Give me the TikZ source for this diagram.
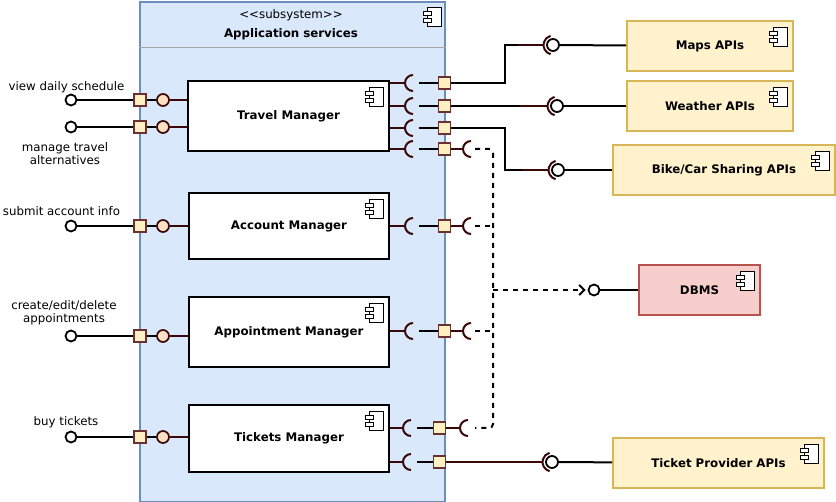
\documentclass[tikz,border=0pt]{standalone}
\usepackage{fontspec}
\setmainfont{DejaVu Sans}
\usetikzlibrary{arrows.meta}
\definecolor{subFill}{HTML}{DAE8FC}
\definecolor{subDraw}{HTML}{6C8EBF}
\definecolor{yelFill}{HTML}{FFF2CC}
\definecolor{yelDraw}{HTML}{D6B656}
\definecolor{redFill}{HTML}{F8CECC}
\definecolor{redDraw}{HTML}{B85450}
\definecolor{cBrown}{HTML}{3A0808}
\definecolor{cPort}{HTML}{FFF0C4}
\definecolor{cPortDraw}{HTML}{6B3030}
\definecolor{cPeach}{HTML}{FFE0C4}
\tikzset{
  blk/.style={line width=2pt, draw=black},
  brw/.style={line width=2pt, draw=cBrown},
  dsh/.style={line width=2pt, draw=black, dash pattern=on 5pt off 5pt},
  comp/.style={draw=black, line width=2.2pt, fill=white, minimum width=200, minimum height=70, inner sep=0, font=\fontsize{11.8}{14}\selectfont\bfseries},
  extbox/.style={draw=yelDraw, fill=yelFill, line width=2pt, minimum height=50, inner sep=0, font=\fontsize{11.8}{14}\selectfont\bfseries},
  ext/.style={circle, draw=black, fill=white, line width=1.8pt, minimum size=11, inner sep=0},
  port/.style={rectangle, draw=cPortDraw, fill=cPort, line width=1.7pt, minimum size=12, inner sep=0},
  ball/.style={circle, draw=cBrown, fill=cPeach, line width=1.7pt, minimum size=12, inner sep=0},
  lab/.style={align=center, inner sep=0, font=\fontsize{11.8}{13}\selectfont},
  cicon/.pic={
    \draw[line width=1pt, fill=white] (-14,0) rectangle (0,19);
    \draw[line width=1pt, fill=white] (-18,4) rectangle (-10,8);
    \draw[line width=1pt, fill=white] (-18,11) rectangle (-10,15);
  },
  sock/.pic={\draw[brw] (8,8) arc[start angle=90, end angle=270, radius=8];}
}
\begin{document}
\begin{tikzpicture}[x=1pt, y=-1pt]
\useasboundingbox (0,0) rectangle (836,502);
% subsystem
\node[draw=subDraw, fill=subFill, line width=1.8pt, minimum width=305, minimum height=500, inner sep=0, anchor=north west] (sub) at (139,1) {};
\draw[draw=gray!70, line width=0.8pt] (sub.west |- 0,47) -- (sub.east |- 0,47);
\node[lab] (st) at (291,15) {<\kern0pt<subsystem>\kern0pt>};
\node[lab, font=\fontsize{11.8}{13}\selectfont\bfseries] (sn) at (291,34) {Application services};
\pic at ([xshift=-4pt,yshift=-7pt]sub.north east) {cicon};
% components
\node[comp, minimum width=201] (tm) at (288.5,116) {Travel Manager};
\node[comp, minimum height=66] (am) at (289,226) {Account Manager};
\node[comp] (apm) at (289,332) {Appointment Manager};
\node[comp, minimum height=67] (tkm) at (289,438.5) {Tickets Manager};
\foreach \c in {tm,am,apm,tkm} {\pic at ([xshift=-7pt,yshift=-8pt]\c.north east) {cicon};}
% external components
\node[extbox, minimum width=166] (maps) at (710,46) {Maps APIs};
\node[extbox, minimum width=166] (wea) at (710,106) {Weather APIs};
\node[extbox, minimum width=222] (bike) at (724,170) {Bike/Car Sharing APIs};
\node[extbox, minimum width=211] (tp) at (718.5,463) {Ticket Provider APIs};
\node[extbox, draw=redDraw, fill=redFill, minimum width=121] (dbms) at (699.5,290) {DBMS};
\foreach \c in {maps,wea,bike,tp,dbms} {\pic at ([xshift=-7pt,yshift=-8pt]\c.north east) {cicon};}
% left interfaces
\node[lab] (l1) at (66.5,87) {view daily schedule};
\node[lab] (l2) at (65,154) {manage travel\\alternatives};
\node[lab] (l3) at (61.5,211) {submit account info};
\node[lab] (l4) at (64,313) {create/edit/delete\\appointments};
\node[lab] (l5) at (66,422) {buy tickets};
\foreach \i/\yy/\c in {1/100/tm,2/127/tm,3/226/am,4/336/apm,5/437/tkm} {
  \node[ext] (e\i) at (71,\yy) {};
  \node[ball] (lb\i) at (163,\yy) {};
  \draw[blk] (e\i) -- (140,\yy);
  \draw[blk] (140,\yy) -- (lb\i);
  \draw[brw] (lb\i) -- (lb\i -| \c.west);
  \node[port] (lp\i) at (140,\yy) {};
}
% right required interfaces of components
\foreach \i/\yy/\c/\sx/\px in {1/83/tm/405/444.5,2/106/tm/405/444.5,3/128/tm/405/444.5,4/149/tm/405/444.5,5/226/am/405/444.5,6/331/apm/405/444.5,7/428/tkm/403/439.5,8/462/tkm/403/439.5} {
  \coordinate (s\i) at (\sx,\yy);
  \draw[brw] (s\i -| \c.east) -- (s\i);
  \pic at (s\i) {sock};
  \coordinate (g\i) at ([xshift=14pt]s\i);
  \draw[blk] (g\i) -- (\px,\yy);
}
% outer sockets to DBMS
\foreach \i/\yy/\px/\ox in {4/149/444.5/463,5/226/444.5/463,6/331/444.5/463,7/428/439.5/460} {
  \coordinate (os\i) at (\ox,\yy);
  \draw[brw] (\px,\yy) -- (os\i);
  \pic at (os\i) {sock};
  \coordinate (od\i) at (475,\yy);
}
\coordinate (v1) at (493,149);
\coordinate (v2) at (493,428);
\coordinate (v3) at (493,290);
\draw[dsh, rounded corners=4pt] (od4) -- (v1) -- (v2) -- (od7);
\draw[dsh] (od5) -- (od5 -| v1);
\draw[dsh] (od6) -- (od6 -| v1);
\node[ext, minimum size=11] (db) at (594,290) {};
\draw[dsh, -{Straight Barb[length=5pt, width=10pt, line width=2pt]}, shorten >=2pt] (v3) -- (db);
\draw[blk] (db) -- (dbms);
% provided interfaces from external APIs
\node[ext, minimum size=12] (mb) at (553,45) {};
\node[ext, minimum size=12] (wb) at (557,106) {};
\node[ext, minimum size=12] (bb) at (558,170) {};
\node[ext, minimum size=12] (tb) at (552,462) {};
\coordinate (m1) at (505,83);
\coordinate (m2) at (505,45);
\coordinate (m3) at (518,45);
\draw[blk] (444.5,83) -- (m1) -- (m2) -- (m3);
\draw[brw] (m3) -- ([xshift=-9.5pt]mb.center);
\coordinate (w1) at (520,106);
\draw[blk] (444.5,106) -- (w1);
\draw[brw] (w1) -- ([xshift=-9.5pt]wb.center);
\coordinate (k1) at (505,128);
\coordinate (k2) at (505,170);
\coordinate (k3) at (522,170);
\draw[blk] (444.5,128) -- (k1) -- (k2) -- (k3);
\draw[brw] (k3) -- ([xshift=-9.5pt]bb.center);
\draw[brw] (439.5,462) -- ([xshift=-9.5pt]tb.center);
\foreach \b in {mb,wb,bb,tb} {
  \draw[brw] (\b.center) ++(105:9.5) arc[start angle=105, end angle=255, radius=9.5];
}
\draw[blk] (mb) -- (maps);
\draw[blk] (wb) -- (wea);
\draw[blk] (bb) -- (bike);
\draw[blk] (tb) -- (tp);
% right ports (on top)
\foreach \i/\yy/\px in {1/83/444.5,2/106/444.5,3/128/444.5,4/149/444.5,5/226/444.5,6/331/444.5,7/428/439.5,8/462/439.5} {
  \node[port] (q\i) at (\px,\yy) {};
}
\end{tikzpicture}
\end{document}
